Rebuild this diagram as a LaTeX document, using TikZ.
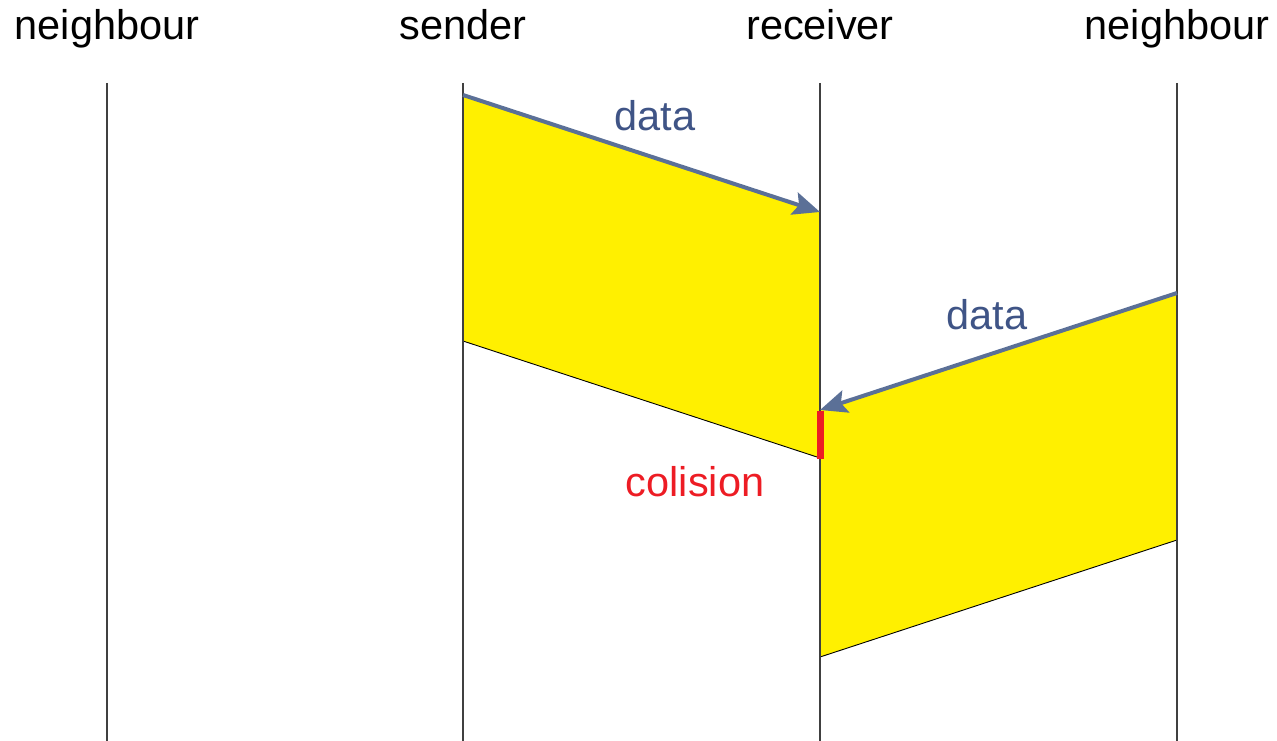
\documentclass[tikz,border=0pt]{standalone}
\usepackage{fontspec}
\setmainfont{Liberation Sans}
\usetikzlibrary{arrows.meta}
\definecolor{msgblue}{HTML}{5B7097}
\definecolor{lblblue}{HTML}{3F5486}
\definecolor{fillyel}{HTML}{FFF000}
\definecolor{colred}{HTML}{ED1C24}
\tikzset{
  lifeline/.style={draw=black!75, line width=1.1pt},
  head/.style={font=\fontsize{41.5}{48}\selectfont, text=black, inner sep=0pt, anchor=base},
  lbl/.style={font=\fontsize{41.5}{48}\selectfont, text=lblblue, inner sep=0pt, anchor=base},
  msg/.style={draw=msgblue, line width=4pt, -{Stealth[length=27pt,width=23pt,inset=5pt]}},
  slab/.style={fill=fillyel, draw=none},
  edge/.style={draw=black, line width=0.9pt}
}
\begin{document}
\begin{tikzpicture}[x=1pt,y=-1pt]
\useasboundingbox (0,0) rectangle (1277,741);
% slabs
\fill[slab] (463,95) -- (820,212) -- (820,458) -- (463,341) -- cycle;
\fill[slab] (1177,293) -- (820,410) -- (820,657) -- (1177,540) -- cycle;
\coordinate (s1b) at (463,341); \coordinate (r1b) at (820,458);
\coordinate (n2b) at (1177,540); \coordinate (r2b) at (820,657);
\draw[edge] (s1b) -- (r1b);
\draw[edge] (n2b) -- (r2b);
% lifelines
\coordinate (l1t) at (107,83); \coordinate (l1b) at (107,741);
\coordinate (l2t) at (463,83); \coordinate (l2b) at (463,741);
\coordinate (l3t) at (820,83); \coordinate (l3b) at (820,741);
\coordinate (l4t) at (1177,83); \coordinate (l4b) at (1177,741);
\draw[lifeline] (l1t) -- (l1b);
\draw[lifeline] (l2t) -- (l2b);
\draw[lifeline] (l3t) -- (l3b);
\draw[lifeline] (l4t) -- (l4b);
% headers
\node[head] (h1) at (107,40) {neighbour};
\node[head] (h2) at (463,40) {sender};
\node[head] (h3) at (820,40) {receiver};
\node[head] (h4) at (1177,40) {neighbour};
% messages
\coordinate (m1s) at (463,95); \coordinate (m1e) at (820,212);
\coordinate (m2s) at (1177,293); \coordinate (m2e) at (820,410);
\draw[msg] (m1s) -- (m1e);
\draw[msg] (m2s) -- (m2e);
\node[lbl] (d1) at (655,131) {data};
\node[lbl] (d2) at (987,329) {data};
% collision
\coordinate (c1) at (820.5,411); \coordinate (c2) at (820.5,459);
\draw[colred, line width=7pt] (c1) -- (c2);
\node[head, text=colred] (col) at (695,496) {colision};
\end{tikzpicture}
\end{document}
